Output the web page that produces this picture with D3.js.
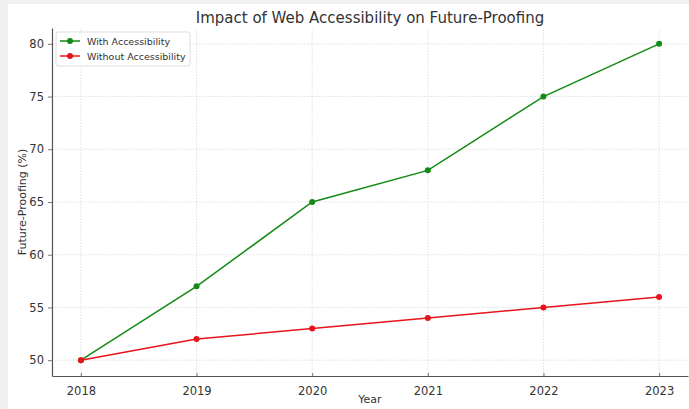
<!DOCTYPE html>
<html>
<head>
<meta charset="utf-8">
<script src="https://cdn.jsdelivr.net/npm/d3@7/dist/d3.min.js"></script>
<style>
  html, body { margin: 0; padding: 0; background: #f0f0f0; }
  svg { display: block; }
  text { font-family: "DejaVu Sans", sans-serif; fill: #333; }
</style>
</head>
<body>
<svg id="chart" width="689" height="409"></svg>
<script>
const years = [2018, 2019, 2020, 2021, 2022, 2023];
const withAccessibility = [50, 57, 65, 68, 75, 80];
const withoutAccessibility = [50, 52, 53, 54, 55, 56];
const yTicks = [50, 55, 60, 65, 70, 75, 80];
const seriesNames = ["With Accessibility", "Without Accessibility"];
const seriesColors = ["#138a13", "#e8141b"];

const svg = d3.select("#chart");
// white canvas with a thin grey frame at top and left
svg.append("rect").attr("x", 8).attr("y", 4).attr("width", 681).attr("height", 405).attr("fill", "#fff");

const margin = { left: 52, right: 1, top: 28, bottom: 33 };
const W = 689, H = 409;

const x = d3.scaleLinear().domain([2017.75, 2023.25]).range([margin.left, W - margin.right]);
const y = d3.scaleLinear().domain([48.5, 81.5]).range([H - margin.bottom, margin.top]);

// grid
const grid = svg.append("g").attr("stroke", "#d9d9d9").attr("stroke-width", 0.8).attr("stroke-dasharray", "1.5,1.5");
grid.selectAll("line.gx").data(years).join("line")
  .attr("x1", d => x(d)).attr("x2", d => x(d))
  .attr("y1", y.range()[0]).attr("y2", y.range()[1]);
grid.selectAll("line.gy").data(yTicks).join("line")
  .attr("x1", x.range()[0]).attr("x2", x.range()[1])
  .attr("y1", d => y(d)).attr("y2", d => y(d));

// axes
const xAxis = svg.append("g").attr("transform", `translate(0,${H - margin.bottom})`)
  .call(d3.axisBottom(x).tickValues(years).tickFormat(d3.format("d")).tickSizeOuter(0).tickSizeInner(-3).tickPadding(11));
const yAxis = svg.append("g").attr("transform", `translate(${margin.left},0)`)
  .call(d3.axisLeft(y).tickValues(yTicks).tickSizeOuter(0).tickSizeInner(4).tickPadding(4));
[xAxis, yAxis].forEach(a => {
  a.select(".domain").attr("stroke", "#555").attr("stroke-width", 1.2);
  a.selectAll(".tick line").attr("stroke", "#777");
  a.selectAll(".tick text").attr("font-size", 11.5).attr("fill", "#333").style("font-family", "DejaVu Sans, sans-serif");
});

// lines and markers
const series = [withAccessibility, withoutAccessibility];
const line = d3.line().x((d, i) => x(years[i])).y(d => y(d));
series.forEach((vals, s) => {
  svg.append("path").datum(vals).attr("d", line)
    .attr("fill", "none").attr("stroke", seriesColors[s]).attr("stroke-width", 1.5);
  svg.append("g").selectAll("circle").data(vals).join("circle")
    .attr("cx", (d, i) => x(years[i])).attr("cy", d => y(d)).attr("r", 3)
    .attr("fill", seriesColors[s]);
});

// title and axis labels
svg.append("text").attr("x", 370).attr("y", 23).attr("text-anchor", "middle")
  .attr("font-size", 15).text("Impact of Web Accessibility on Future-Proofing");
svg.append("text").attr("x", 370).attr("y", 403).attr("text-anchor", "middle")
  .attr("font-size", 11).text("Year");
svg.append("text").attr("transform", "translate(26,202) rotate(-90)").attr("text-anchor", "middle")
  .attr("font-size", 11).text("Future-Proofing (%)");

// legend
const lg = svg.append("g").attr("transform", "translate(56,32)");
lg.append("rect").attr("width", 134).attr("height", 34).attr("rx", 2)
  .attr("fill", "#fff").attr("fill-opacity", 0.85).attr("stroke", "#ddd");
seriesNames.forEach((name, i) => {
  const yy = 9 + i * 15;
  lg.append("line").attr("x1", 4).attr("x2", 24).attr("y1", yy).attr("y2", yy)
    .attr("stroke", seriesColors[i]).attr("stroke-width", 1.5);
  lg.append("circle").attr("cx", 14).attr("cy", yy).attr("r", 3).attr("fill", seriesColors[i]);
  lg.append("text").attr("x", 31).attr("y", yy + 3.5).attr("font-size", 9.5).text(name);
});
</script>
</body>
</html>
